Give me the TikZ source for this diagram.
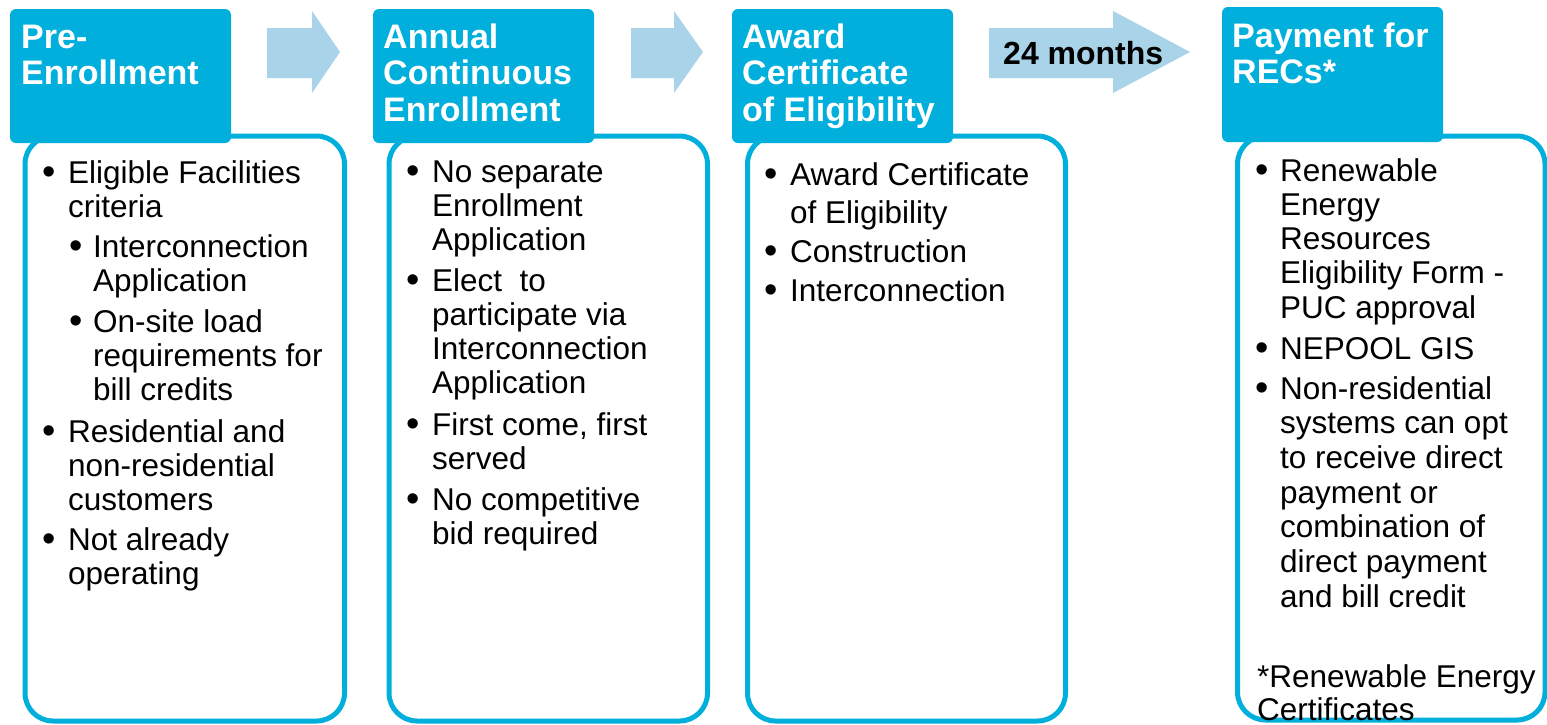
\documentclass[tikz,border=0pt]{standalone}
\usepackage{fontspec}
\setmainfont{Liberation Sans}
\definecolor{stepblue}{RGB}{0,175,219}
\definecolor{arrowblue}{RGB}{169,211,233}
\tikzset{
  listbox/.style={draw=stepblue,line width=5pt,fill=white,rounded corners=28pt},
  stepbox/.style={fill=stepblue,rounded corners=6pt},
  flow/.style={fill=arrowblue},
  steptitle/.style={anchor=base west,text=white,inner sep=0pt,font=\fontsize{34}{36.5}\selectfont\bfseries},
  listtext/.style={anchor=base west,inner sep=0pt,font=\fontsize{31.5}{34.3}\selectfont},
  bulletmark/.style={anchor=base west,inner sep=0pt,font=\fontsize{38}{38}\selectfont},
}
% lines stacked below the first baseline
\newcommand{\stacked}[1]{\begin{tabular}[t]{@{}l@{}}#1\end{tabular}}
% block arrow: shaft start, head start, tip
\newcommand{\flowarrow}[3]{\fill[flow] (#1,28)--(#2,28)--(#2,11)--(#3,52)--(#2,93)--(#2,78)--(#1,78)--cycle;}
\begin{document}
\begin{tikzpicture}[x=1pt,y=-1pt]
\useasboundingbox (0,0) rectangle (1547,724);
% list boxes
\draw[listbox] (25,136) rectangle (344.5,721);
\draw[listbox] (389,136) rectangle (707.5,721);
\draw[listbox] (747.5,136) rectangle (1065.5,721);
\draw[listbox] (1237.5,136) rectangle (1545,720);
% step headers
\fill[stepbox] (10,9) rectangle (231,143);
\fill[stepbox] (373,9) rectangle (594,143);
\fill[stepbox] (732,9) rectangle (953,143);
\fill[stepbox] (1222,7) rectangle (1443,142);
\node[steptitle] (pre) at (21,48) {\stacked{Pre-\\Enrollment}};
\node[steptitle] (annual) at (383,48) {\stacked{Annual\\Continuous\\Enrollment}};
\node[steptitle] (award) at (742,48) {\stacked{Award\\Certificate\\of Eligibility}};
\node[steptitle] (pay) at (1232,47) {\stacked{Payment for\\RECs*}};
% arrows
\flowarrow{267}{312}{340}
\flowarrow{631}{674}{703}
\flowarrow{989}{1113}{1190}
\node[anchor=base west,inner sep=0pt,font=\fontsize{32}{36}\selectfont\bfseries] (months) at (1003,64) {24 months};
% pre-enrollment
\node[bulletmark] (b1) at (42,184) {•};
\node[listtext] (t1) at (68,183) {\stacked{Eligible Facilities\\criteria}};
\node[bulletmark] (b2) at (69,258) {•};
\node[listtext] (t2) at (93,257) {\stacked{Interconnection\\Application}};
\node[bulletmark] (b3) at (69,333) {•};
\node[listtext] (t3) at (93,332) {\stacked{On-site load\\requirements for\\bill credits}};
\node[bulletmark] (b4) at (42,443) {•};
\node[listtext] (t4) at (68,442) {\stacked{Residential and\\non-residential\\customers}};
\node[bulletmark] (b5) at (42,551) {•};
\node[listtext] (t5) at (68,550) {\stacked{Not already\\operating}};
% annual continuous enrollment
\node[bulletmark] (b6) at (406,183) {•};
\node[listtext] (t6) at (432,182) {\stacked{No separate\\Enrollment\\Application}};
\node[bulletmark] (b7) at (406,292) {•};
\node[listtext] (t7) at (432,291) {\stacked{Elect~~to\\participate via\\Interconnection\\Application}};
\node[bulletmark] (b8) at (406,436) {•};
\node[listtext] (t8) at (432,435) {\stacked{First come, first\\served}};
\node[bulletmark] (b9) at (406,511) {•};
\node[listtext] (t9) at (432,510) {\stacked{No competitive\\bid required}};
% award certificate
\node[bulletmark] (b10) at (764,186) {•};
\node[listtext,font=\fontsize{31.5}{38.5}\selectfont] (t10) at (790,185) {\stacked{Award Certificate\\of Eligibility}};
\node[bulletmark] (b11) at (764,263) {•};
\node[listtext] (t11) at (790,262) {Construction};
\node[bulletmark] (b12) at (764,302) {•};
\node[listtext] (t12) at (790,301) {Interconnection};
% payment for RECs
\node[bulletmark] (b13) at (1255,182) {•};
\node[listtext] (t13) at (1280,181) {\stacked{Renewable\\Energy\\Resources\\Eligibility Form -\\PUC approval}};
\node[bulletmark] (b14) at (1255,360) {•};
\node[listtext] (t14) at (1280,359) {NEPOOL GIS};
\node[bulletmark] (b15) at (1255,400) {•};
\node[listtext,font=\fontsize{31.5}{34.7}\selectfont] (t15) at (1280,399) {\stacked{Non-residential\\systems can opt\\to receive direct\\payment or\\combination of\\direct payment\\and bill credit}};
\node[listtext,font=\fontsize{31.5}{33.5}\selectfont] (note) at (1257,687) {\stacked{*Renewable Energy\\Certificates}};
\end{tikzpicture}
\end{document}
